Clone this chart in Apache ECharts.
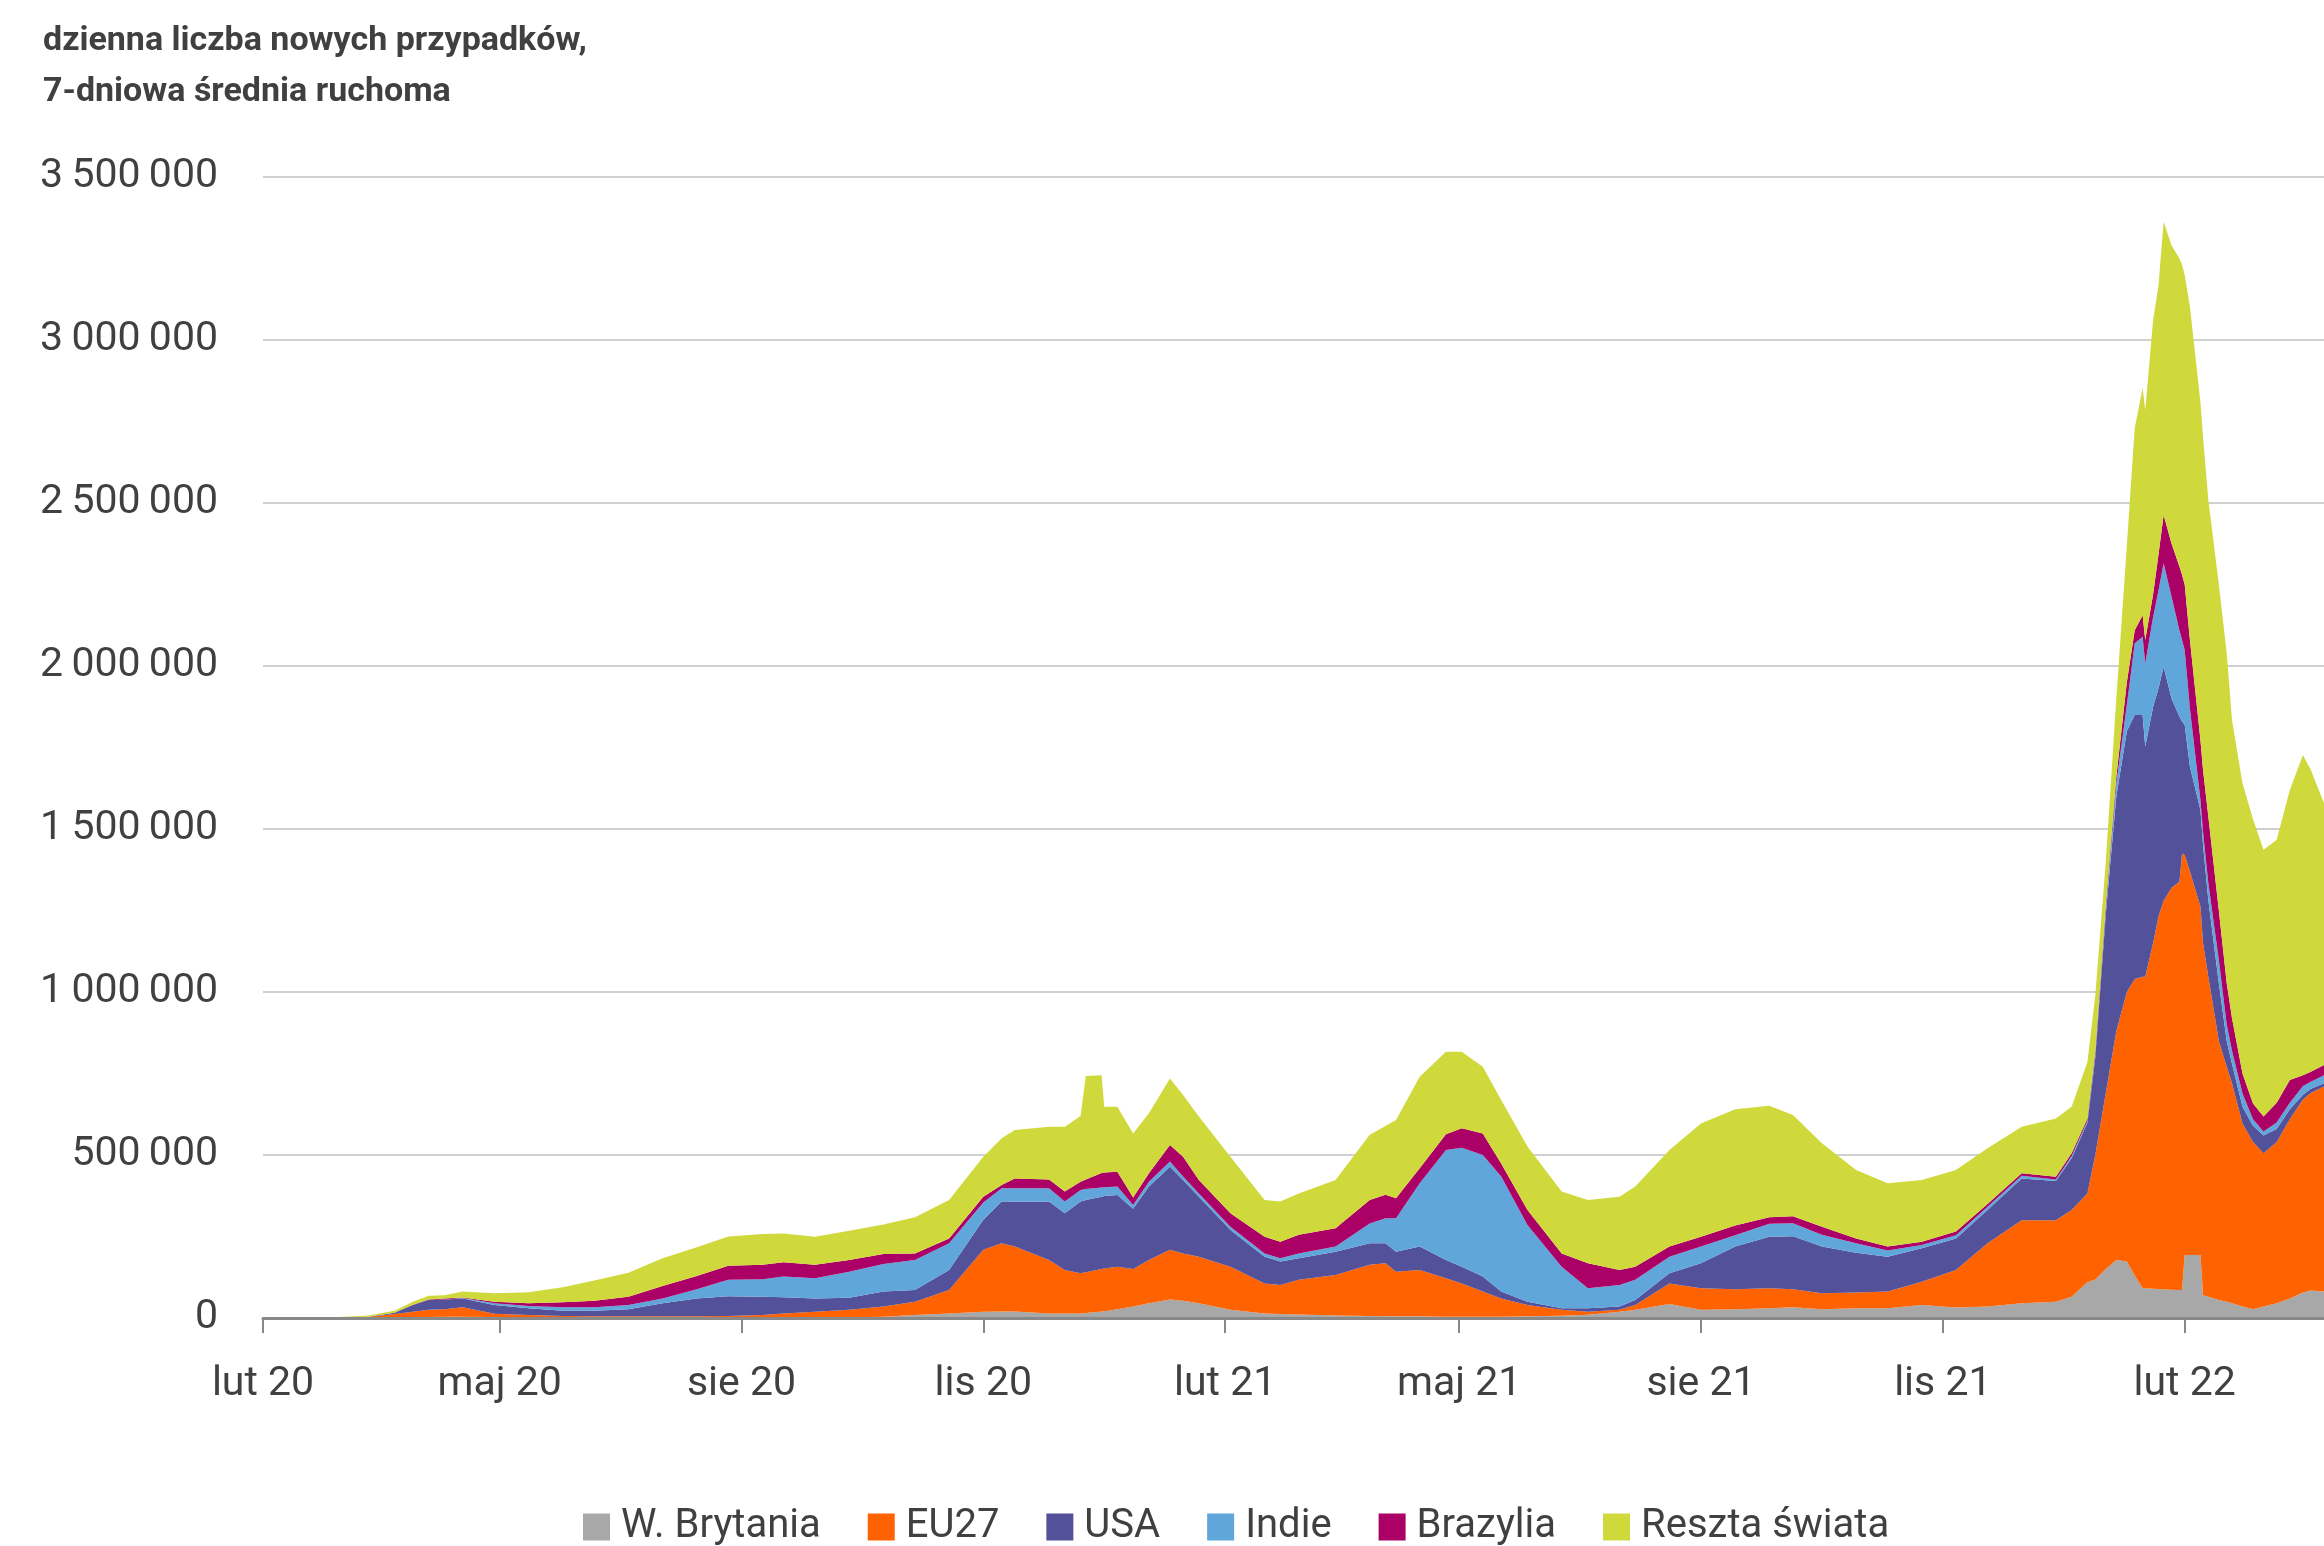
<!DOCTYPE html>
<html>
<head>
<meta charset="utf-8">
<script src="https://cdn.jsdelivr.net/npm/echarts@6/dist/echarts.min.js"></script>
<style>
html, body { margin: 0; padding: 0; background: #fff; }
#chart_container { width: 2324px; height: 1546px; }
</style>
</head>
<body>
<div id="chart_container"></div>
<script>
// daily new cases, 7-day moving average
var dates = [
    '2020-02-01','2020-03-01','2020-03-12','2020-03-22','2020-03-29','2020-04-04','2020-04-10','2020-04-17','2020-04-29','2020-05-12',
    '2020-05-25','2020-06-06','2020-06-19','2020-07-02','2020-07-15','2020-07-27','2020-08-09','2020-08-17','2020-08-29','2020-09-11',
    '2020-09-24','2020-10-06','2020-10-19','2020-11-01','2020-11-08','2020-11-13','2020-11-26','2020-12-02','2020-12-08','2020-12-10',
    '2020-12-16','2020-12-17','2020-12-22','2020-12-28','2021-01-03','2021-01-11','2021-01-16','2021-01-22','2021-02-03','2021-02-16',
    '2021-02-22','2021-03-01','2021-03-15','2021-03-28','2021-04-03','2021-04-07','2021-04-16','2021-04-26','2021-05-02','2021-05-10',
    '2021-05-17','2021-05-27','2021-06-09','2021-06-19','2021-07-01','2021-07-07','2021-07-20','2021-08-01','2021-08-14','2021-08-27',
    '2021-09-05','2021-09-16','2021-09-29','2021-10-11','2021-10-24','2021-11-06','2021-11-18','2021-12-01','2021-12-14','2021-12-20',
    '2021-12-26','2021-12-29','2022-01-02','2022-01-06','2022-01-10','2022-01-13','2022-01-16','2022-01-17','2022-01-20','2022-01-22',
    '2022-01-24','2022-01-27','2022-01-30','2022-01-31','2022-02-01','2022-02-03','2022-02-07','2022-02-08','2022-02-10','2022-02-14',
    '2022-02-17','2022-02-19','2022-02-23','2022-02-27','2022-03-03','2022-03-08','2022-03-13','2022-03-18','2022-03-21','2022-03-26'
];
var uk = [
    0,0,0,1000,2000,3000,4000,4000,3000,2000,
    2000,1000,1000,1000,1000,1000,1000,1000,1000,2000,
    4000,9000,14000,19000,20000,20000,14000,14000,14000,15000,
    20000,21000,27000,35000,45000,57000,53000,45000,25000,14000,
    12000,11000,8000,6000,5000,5000,5000,4000,4000,4000,
    4000,5000,7000,10000,19000,25000,43000,25000,27000,30000,
    33000,27000,30000,30000,40000,32000,35000,45000,50000,65000,
    110000,118000,150000,178000,173000,130000,92000,91000,90000,89000,
    88000,87000,86000,86000,193000,193000,193000,70000,65000,55000,
    50000,45000,35000,27000,35000,45000,60000,78000,84000,81000
];
var eu27 = [
    0,1000,3000,11000,17000,22000,23000,29000,10000,7000,
    4000,4000,4000,4000,4000,5000,8000,13000,18000,23000,
    31000,41000,72000,190000,209000,199000,164000,133000,123000,125000,
    130000,131000,130000,115000,133000,152000,145000,143000,132000,92000,
    89000,106000,124000,157000,163000,137000,142000,118000,102000,77000,
    56000,35000,18000,9000,6000,15000,63000,66000,61000,61000,
    55000,49000,48000,51000,71000,115000,194000,255000,250000,266000,
    272000,382000,540000,702000,827000,910000,955000,956000,1060000,1141000,
    1192000,1233000,1252000,1339000,1227000,1177000,1069000,1080000,982000,795000,
    721000,675000,562000,513000,470000,495000,550000,592000,606000,629000
];
var usa = [
    0,0,1000,4000,21000,30000,30000,27000,27000,21000,
    16000,17000,22000,40000,55000,61000,56000,50000,41000,37000,
    46000,36000,61000,92000,128000,138000,179000,174000,220000,222000,
    222000,222000,220000,185000,225000,255000,225000,184000,113000,82000,
    72000,66000,71000,66000,61000,61000,72000,56000,51000,46000,
    21000,10000,5000,11000,10000,15000,31000,77000,131000,158000,
    163000,143000,122000,107000,103000,97000,102000,128000,120000,159000,
    218000,300000,550000,720000,800000,810000,803000,705000,725000,700000,
    718000,580000,507000,405000,400000,321000,296000,300000,235000,177000,
    79000,60000,51000,50000,55000,40000,30000,15000,13000,10000
];
var india = [
    0,0,0,0,0,0,0,1000,5000,7000,
    11000,11000,13000,15000,28000,50000,54000,63000,62000,80000,
    85000,92000,82000,53000,41000,41000,41000,36000,36000,34000,
    28000,27000,26000,12000,15000,16000,11000,10000,10000,10000,
    10000,15000,16000,61000,77000,103000,194000,337000,365000,373000,
    353000,235000,127000,61000,66000,62000,51000,51000,35000,40000,
    40000,36000,29000,19000,10000,10000,10000,8000,5000,7000,
    5000,10000,15000,40000,80000,220000,240000,256000,275000,300000,
    317000,313000,265000,250000,230000,179000,31000,40000,52000,71000,
    50000,40000,41000,20000,12000,20000,20000,27000,22000,25000
];
var brazil = [
    0,0,0,0,1000,2000,3000,2000,5000,8000,
    15000,20000,25000,38000,41000,43000,44000,44000,41000,36000,
    30000,20000,15000,18000,10000,30000,27000,31000,25000,29000,
    45000,45000,46000,23000,26000,51000,61000,41000,41000,51000,
    51000,57000,56000,72000,72000,61000,46000,49000,60000,66000,
    40000,46000,41000,77000,46000,40000,31000,30000,30000,20000,
    21000,25000,15000,12000,10000,11000,9000,8000,8000,8000,
    7000,10000,15000,20000,70000,40000,66000,72000,70000,110000,
    148000,163000,195000,200000,200000,210000,184000,190000,204000,152000,
    127000,100000,61000,48000,46000,60000,70000,33000,30000,31000
];
var rest = [
    2000,2000,4000,6000,9000,11000,10000,18000,26000,34000,
    46000,62000,74000,85000,88000,90000,95000,88000,86000,90000,
    91000,111000,118000,123000,143000,149000,162000,199000,202000,317000,
    300000,202000,199000,196000,184000,204000,189000,195000,174000,113000,
    123000,127000,148000,200000,211000,240000,281000,253000,235000,205000,
    195000,195000,190000,194000,225000,246000,296000,348000,356000,342000,
    311000,256000,210000,194000,189000,189000,171000,143000,179000,143000,
    173000,170000,130000,240000,420000,620000,696000,705000,841000,824000,
    900000,915000,945000,950000,950000,1022000,1036000,1020000,971000,1000000,
    1012000,914000,890000,872000,818000,807000,890000,982000,926000,803000
];

var seriesNames = ['W. Brytania', 'EU27', 'USA', 'Indie', 'Brazylia', 'Reszta świata'];
var seriesColors = ['#a8a8a8', '#ff6200', '#525199', '#60a6da', '#ab0066', '#d0d93c'];
var seriesValues = [uk, eu27, usa, india, brazil, rest];

var tickDates = ['2020-02-01','2020-05-01','2020-08-01','2020-11-01','2021-02-01','2021-05-01','2021-08-01','2021-11-01','2022-02-01'];
// month number (1-12) -> polish short name
var monthNames = {2: 'lut', 5: 'maj', 8: 'sie', 11: 'lis'};

function ts(s) {
    var p = s.split('-');
    return Date.UTC(+p[0], +p[1] - 1, +p[2]);
}

var tickValues = tickDates.map(ts);
var fontName = 'Roboto';

var dom = document.getElementById('chart_container');
var myChart = echarts.init(dom);

// value column first so the stack is built on y, date column second
var series_list = seriesNames.map(function (name, k) {
    return {
        name: name,
        type: 'line',
        stack: 'total',
        symbol: 'none',
        showSymbol: false,
        encode: {x: 1, y: 0},
        lineStyle: {width: 0},
        itemStyle: {color: seriesColors[k]},
        areaStyle: {color: seriesColors[k], opacity: 1},
        data: dates.map(function (d, i) {
            return [seriesValues[k][i], ts(d)];
        })
    };
});

var option = {
    animation: false,
    backgroundColor: '#ffffff',
    title: {
        text: 'dzienna liczba nowych przypadków,\n7-dniowa średnia ruchoma',
        left: 38,
        top: 11,
        textStyle: {
            fontFamily: fontName,
            fontSize: 34,
            fontWeight: 'bold',
            lineHeight: 51,
            color: '#404040'
        }
    },
    legend: {
        left: 578,
        top: 1502,
        icon: 'rect',
        itemWidth: 27,
        itemHeight: 27,
        itemGap: 47,
        textStyle: {
            fontFamily: fontName,
            fontSize: 40,
            color: '#404040',
            padding: [0, 0, 0, 6]
        },
        data: seriesNames
    },
    grid: {
        left: 263,
        right: 0,
        top: 177,
        bottom: 228,
        containLabel: false
    },
    xAxis: {
        type: 'value',
        min: ts('2020-02-01'),
        max: ts('2022-03-26'),
        z: 5,
        axisLine: {show: true, lineStyle: {color: '#888888', width: 3}},
        axisTick: {
            show: true,
            length: 15,
            customValues: tickValues,
            lineStyle: {color: '#888888', width: 2}
        },
        axisLabel: {
            customValues: tickValues,
            fontFamily: fontName,
            fontSize: 41,
            color: '#404040',
            margin: 46,
            formatter: function (v) {
                var d = new Date(v);
                return monthNames[d.getUTCMonth() + 1] + ' ' + String(d.getUTCFullYear()).slice(2);
            }
        },
        splitLine: {show: false}
    },
    yAxis: {
        type: 'value',
        min: 0,
        max: 3500000,
        interval: 500000,
        axisLine: {show: false},
        axisTick: {show: false},
        axisLabel: {
            fontFamily: fontName,
            fontSize: 41,
            color: '#404040',
            margin: 45,
            formatter: function (v) {
                return String(v).replace(/\B(?=(\d{3})+(?!\d))/g, '\u2009');
            }
        },
        splitLine: {lineStyle: {color: '#d0d0d0', width: 2}}
    },
    series: series_list
};

myChart.setOption(option, true);
</script>
</body>
</html>
